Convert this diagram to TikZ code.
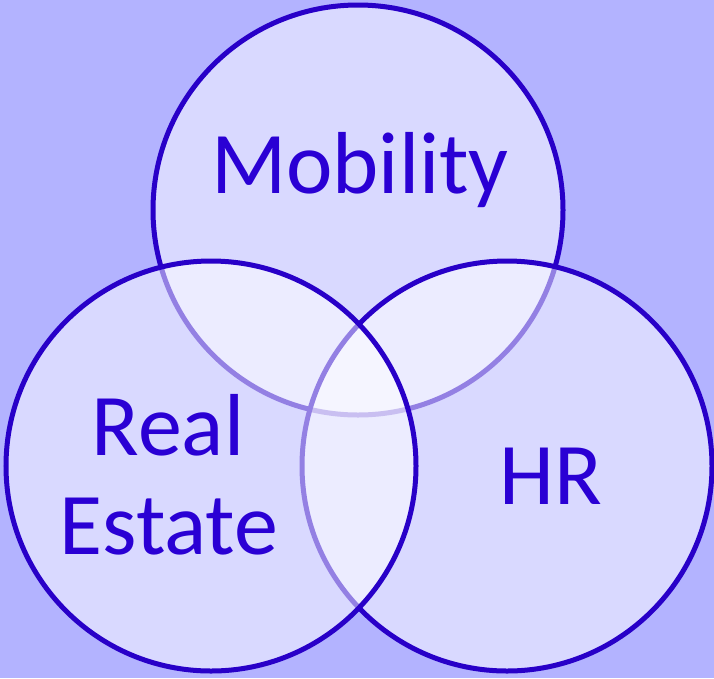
\documentclass[tikz,border=0pt]{standalone}
\usepackage{fontspec}
\setmainfont{Carlito}
\definecolor{bg}{RGB}{179,179,255}
\definecolor{ring}{RGB}{40,0,200}
\definecolor{txt}{RGB}{42,0,212}
\begin{document}
\begin{tikzpicture}[x=1pt,y=-1pt,
  ring/.style={draw=ring,line width=5pt,fill=white,fill opacity=0.5,draw opacity=1},
  lbl/.style={anchor=base,text=txt,inner sep=0pt,font=\fontsize{88}{88}\selectfont}]
\fill[bg] (0,0) rectangle (714,678);
\useasboundingbox (0,0) rectangle (714,678);
\path[ring] (358,210) circle[radius=205];
\path[ring] (507,466) circle[radius=205];
\path[ring] (211,466) circle[radius=205];
\node[lbl] (mob) at (360,193) {Mobility};
\node[lbl] (real) at (168,455) {Real};
\node[lbl] (est) at (169,554) {Estate};
\node[lbl] (hr) at (551,504) {HR};
\end{tikzpicture}
\end{document}
